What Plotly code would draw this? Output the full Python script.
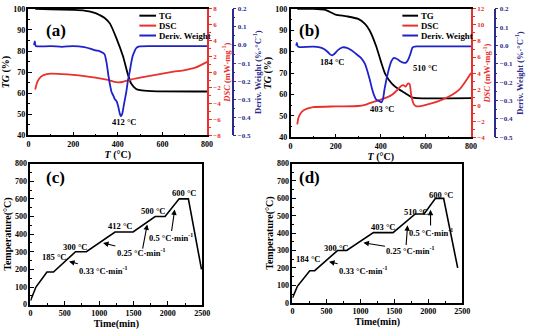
import plotly.graph_objects as go

W, H = 535, 333
def px(x): return x / W
def py(y): return 1 - y / H

# ---------------- data ----------------
# (a)
a_tg_T = [30, 100, 200, 250, 300, 320, 340, 365, 394, 423, 445, 460, 482, 500, 550, 800]
a_tg = [100, 99.8, 99.5, 99.2, 98, 97, 95.8, 93, 86, 77.6, 69, 64.6, 62, 61.4, 61, 60.8]
a_dsc_T = [30, 40, 55, 70, 100, 150, 200, 250, 300, 350, 380, 400, 420, 450, 500, 550, 600, 650, 700, 750, 800]
a_dsc = [-2.2, -1.2, -0.6, -0.35, -0.2, -0.25, -0.35, -0.5, -0.7, -0.95, -1.2, -1.3, -1.25, -1.0, -0.7, -0.45, -0.2, 0.05, 0.25, 0.6, 1.3]
a_dw_T = [25, 28, 32, 40, 100, 150, 200, 250, 280, 300, 320, 340, 350, 358, 365, 372, 380, 387, 394, 402, 409, 414, 420, 426, 432, 438, 445, 453, 460, 467, 475, 482, 496, 550, 800]
a_dw = [0.0, 0.02, -0.005, -0.008, -0.006, -0.01, -0.006, -0.012, -0.022, -0.03, -0.035, -0.05, -0.1, -0.17, -0.22, -0.26, -0.28, -0.3, -0.31, -0.34, -0.38, -0.395, -0.38, -0.34, -0.3, -0.26, -0.2, -0.15, -0.1, -0.06, -0.035, -0.018, -0.008, -0.006, -0.006]

# (b)
b_tg_T = [30, 100, 150, 180, 200, 250, 300, 330, 350, 380, 400, 420, 450, 480, 510, 540, 560, 800]
b_tg = [100, 100, 99.6, 98.3, 97.3, 96.5, 95.3, 93, 90, 82.4, 75.6, 69.5, 65, 62.4, 60.5, 58.6, 58.3, 58.3]
b_dsc_T = [30, 35, 45, 60, 100, 200, 300, 330, 350, 380, 400, 430, 450, 470, 480, 490, 500, 510, 520, 528, 535, 545, 555, 565, 600, 650, 700, 750, 800]
b_dsc = [-2.4, -1.6, -1.0, -0.6, -0.25, -0.15, -0.1, 0.05, 0.25, 0.5, 0.7, 1.0, 1.3, 1.8, 2.1, 2.4, 2.5, 2.3, 2.7, 2.6, 1.2, 0.2, -0.1, -0.15, 0.05, 0.45, 1.05, 2.0, 4.0]
b_dw_T = [25, 28, 32, 40, 100, 130, 150, 165, 175, 184, 195, 210, 230, 250, 270, 290, 310, 330, 350, 360, 370, 380, 390, 403, 410, 417, 432, 447, 458, 470, 480, 490, 500, 510, 520, 530, 541, 550, 560, 800]
b_dw = [0.0, 0.015, -0.005, -0.008, -0.006, -0.01, -0.02, -0.035, -0.048, -0.053, -0.045, -0.025, -0.01, -0.012, -0.025, -0.045, -0.065, -0.1, -0.18, -0.23, -0.27, -0.295, -0.3, -0.31, -0.29, -0.235, -0.147, -0.085, -0.067, -0.072, -0.08, -0.088, -0.093, -0.094, -0.08, -0.05, -0.01, -0.006, -0.005, -0.005]

# (c)
c_t = [0, 80, 240, 335, 656, 814, 1231, 1494, 1815, 1959, 2165, 2299, 2490]
c_T = [22, 100, 185, 185, 300, 300, 412, 412, 500, 500, 600, 600, 200]
# (d)
d_t = [0, 72, 255, 327, 663, 798, 1192, 1481, 1808, 1938, 2106, 2226, 2433]
d_T = [28, 94, 184, 184, 300, 300, 403, 403, 510, 510, 600, 600, 200]

tg_ticks = [40, 50, 60, 70, 80, 90, 100]
a_dsc_ticks = [-8, -6, -4, -2, 0, 2, 4, 6, 8]
b_dsc_ticks = [-4, -2, 0, 2, 4, 6, 8, 10, 12]
dw_ticks = [-0.5, -0.4, -0.3, -0.2, -0.1, 0.0, 0.1, 0.2]
T_ticks = [0, 200, 400, 600, 800]
time_ticks = [0, 500, 1000, 1500, 2000, 2500]
temp_ticks = [0, 100, 200, 300, 400, 500, 600, 700, 800]
legend_names = ["TG", "DSC", "Deriv. Weight"]

# ---------------- style ----------------
FONT = "Liberation Serif"
RED = "#e8302c"
BLUE = "#1f22c8"
NAVY = "#2b2b8c"
colors = ["black", RED, BLUE]

fig = go.Figure()

def add(x, y, xa, ya, color, name):
    fig.add_trace(go.Scatter(x=x, y=y, xaxis=xa, yaxis=ya, mode="lines",
                             line=dict(color=color, width=1.8, shape="spline", smoothing=0.6),
                             name=name, showlegend=False))

add(a_tg_T, a_tg, "x", "y", "black", "TG")
add(a_dsc_T, a_dsc, "x", "y2", RED, "DSC")
add(a_dw_T, a_dw, "x", "y3", BLUE, "Deriv. Weight")
add(b_tg_T, b_tg, "x2", "y4", "black", "TG")
add(b_dsc_T, b_dsc, "x2", "y5", RED, "DSC")
add(b_dw_T, b_dw, "x2", "y6", BLUE, "Deriv. Weight")
fig.add_trace(go.Scatter(x=c_t, y=c_T, xaxis="x3", yaxis="y7", mode="lines",
                         line=dict(color="black", width=1.6), showlegend=False))
fig.add_trace(go.Scatter(x=d_t, y=d_T, xaxis="x4", yaxis="y8", mode="lines",
                         line=dict(color="black", width=1.6), showlegend=False))

tickf = dict(family=FONT, size=8, color="black", weight="bold")
titf = dict(family=FONT, size=10, color="black", weight="bold")

def xax(domain, anchor, rng, ticks, title, dtick_minor):
    return dict(domain=domain, anchor=anchor, range=rng, tickvals=ticks,
                showgrid=False, zeroline=False, showline=True, linecolor="black", linewidth=1.5,
                mirror=True, ticks="inside", ticklen=4, tickwidth=1, tickcolor="black",
                minor=dict(ticks="inside", ticklen=2, dtick=dtick_minor, tickcolor="black"),
                tickfont=tickf, title=dict(text=title, font=titf, standoff=1))

def yax(domain, anchor, rng, ticks, title, dtick_minor, mirror=True):
    return dict(domain=domain, anchor=anchor, range=rng, tickvals=ticks,
                showgrid=False, zeroline=False, showline=True, linecolor="black", linewidth=1.5,
                mirror=mirror, ticks="inside", ticklen=4, tickwidth=1, tickcolor="black",
                minor=dict(ticks="inside", ticklen=2, dtick=dtick_minor, tickcolor="black"),
                tickfont=tickf, title=dict(text=title, font=titf, standoff=2))

def redax(over, anchor, rng, ticks):
    return dict(overlaying=over, anchor=anchor, side="right", range=rng, tickvals=ticks,
                showgrid=False, zeroline=False, showline=True, linecolor=RED, linewidth=1.5,
                ticks="outside", ticklen=3, tickcolor=RED,
                minor=dict(ticks="outside", ticklen=2, dtick=1, tickcolor=RED),
                tickfont=dict(family=FONT, size=7, color=RED, weight="bold"),
                title=dict(text="<i>DSC</i> (mW·mg<sup>-1</sup>)",
                           font=dict(family=FONT, size=8.5, color=RED, weight="bold"), standoff=0))

def blueax(over, pos):
    return dict(overlaying=over, anchor="free", position=pos, side="right", range=[-0.5, 0.2],
                tickvals=dw_ticks, tickformat=".1f",
                showgrid=False, zeroline=False, showline=True, linecolor=NAVY, linewidth=1.5,
                ticks="outside", ticklen=3, tickcolor=NAVY,
                minor=dict(ticks="outside", ticklen=2, dtick=0.05, tickcolor=NAVY),
                tickfont=dict(family=FONT, size=7, color=NAVY, weight="bold"),
                title=dict(text="Deriv. Weight (%·°C<sup>-1</sup>)",
                           font=dict(family=FONT, size=8.5, color=NAVY, weight="bold"), standoff=4))

dom_ax = [px(27), px(209)]
dom_ay = [py(135), py(5)]
dom_bx = [px(294), px(478)]
dom_by = [py(137), py(5)]
dom_cx = [px(29), px(204)]
dom_cy = [py(309), py(164)]
dom_dx = [px(296), px(469)]
dom_dy = [py(307), py(164)]

Ttitle = "<i>T</i> (°C)"
TGtitle = "<i>TG</i> (%)"

layout = dict(
    width=W, height=H, margin=dict(l=0, r=0, t=0, b=0),
    paper_bgcolor="white", plot_bgcolor="white",
    font=dict(family=FONT, color="black"), showlegend=False,
    xaxis=xax(dom_ax, "y", [0, 800], T_ticks, Ttitle, 100),
    yaxis=yax(dom_ay, "x", [40, 100], tg_ticks, TGtitle, 5, mirror=False),
    yaxis2=redax("y", "x", [-8, 8], a_dsc_ticks),
    yaxis3=blueax("y", px(235)),
    xaxis2=xax(dom_bx, "y4", [0, 800], T_ticks, Ttitle, 100),
    yaxis4=yax(dom_by, "x2", [40, 100], tg_ticks, TGtitle, 5, mirror=False),
    yaxis5=redax("y4", "x2", [-4, 12], b_dsc_ticks),
    yaxis6=blueax("y4", px(502)),
    xaxis3=xax(dom_cx, "y7", [0, 2500], time_ticks, "Time(min)", 250),
    yaxis7=yax(dom_cy, "x3", [0, 800], temp_ticks, "Temperature(°C)", 50),
    xaxis4=xax(dom_dx, "y8", [0, 2500], time_ticks, "Time(min)", 250),
    yaxis8=yax(dom_dy, "x4", [0, 800], temp_ticks, "Temperature(°C)", 50),
)
fig.update_layout(**layout)

ann = []
shapes = []

# manual legends (short line samples as in the reference)
for (lx0, lx1) in [(140, 157), (408, 424)]:
    for i, (nm, col) in enumerate(zip(legend_names, colors)):
        yy = 12 + 10.2 * i
        shapes.append(dict(type="line", xref="paper", yref="paper", x0=px(lx0), x1=px(lx1),
                           y0=py(yy), y1=py(yy), line=dict(color=col, width=2)))
        ann.append(dict(text=f"<b>{nm}</b>", x=px(lx1 + 1), y=py(yy), xref="paper", yref="paper",
                        xanchor="left", yanchor="middle", showarrow=False,
                        font=dict(family=FONT, size=8.8, color="black")))

def lab(text, x, y, xr, yr, size=8.5):
    ann.append(dict(text=f"<b>{text}</b>", x=x, y=y, xref=xr, yref=yr, showarrow=False,
                    font=dict(family=FONT, size=size, color="black")))

def arrowlab(text, tx, ty, hx, hy, xr, yr, size=8.5):
    ann.append(dict(text=f"<b>{text}</b>", x=hx, y=hy, ax=tx, ay=ty, xref=xr, yref=yr, axref=xr, ayref=yr,
                    showarrow=True, arrowhead=2, arrowsize=1, arrowwidth=1.1, arrowcolor="black",
                    standoff=0, startstandoff=0, font=dict(family=FONT, size=size, color="black")))

def arrow(x, y, ax, ay, xr, yr):
    ann.append(dict(text="", x=x, y=y, ax=ax, ay=ay, xref=xr, yref=yr, axref=xr, ayref=yr,
                    showarrow=True, arrowhead=2, arrowsize=1, arrowwidth=1.1, arrowcolor="black"))

# panel labels
for t, (x, y) in zip(["(a)", "(b)", "(c)", "(d)"], [(43, 15), (313, 15), (43, 178), (313, 178)]):
    ann.append(dict(text=f"<b>{t}</b>", x=px(x), y=py(y), xref="paper", yref="paper", showarrow=False,
                    font=dict(family=FONT, size=17, color="black")))

lab("412 °C", 426, 46.2, "x", "y")
lab("184 °C", 185, 75.2, "x2", "y4")
lab("403 °C", 407, 53.3, "x2", "y4")
lab("510 °C", 595, 72.3, "x2", "y4")

# (c)
lab("185 °C", 347, 270, "x3", "y7")
lab("300 °C", 653, 325, "x3", "y7")
lab("412 °C", 1300, 447, "x3", "y7")
lab("500 °C", 1786, 531, "x3", "y7")
lab("600 °C", 2232, 633, "x3", "y7")
arrowlab("0.33 °C·min<sup>-1</sup>", 1068, 193, 562, 245, "x3", "y7")
arrowlab("0.25 °C·min<sup>-1</sup>", 1614, 296, 1057, 350, "x3", "y7")
arrow(1700, 455, 1629, 309, "x3", "y7")
arrowlab("0.5 °C·min<sup>-1</sup>", 2040, 378, 2100, 540, "x3", "y7")

# (d)
lab("184 °C", 231, 254, "x4", "y8")
lab("300 °C", 639, 314, "x4", "y8")
lab("403 °C", 1337, 433, "x4", "y8")
lab("510 °C", 1817, 521, "x4", "y8")
lab("600 °C", 2192, 621, "x4", "y8")
arrowlab("0.33 °C·min<sup>-1</sup>", 1048, 186, 539, 236, "x4", "y8")
arrowlab("0.25 °C·min<sup>-1</sup>", 1745, 301, 1045, 345, "x4", "y8")
arrow(1695, 445, 1672, 323, "x4", "y8")
arrowlab("0.5 °C·min<sup>-1</sup>", 2034, 403, 2033, 535, "x4", "y8")

fig.update_layout(annotations=ann, shapes=shapes)
fig.write_html("out.html")
